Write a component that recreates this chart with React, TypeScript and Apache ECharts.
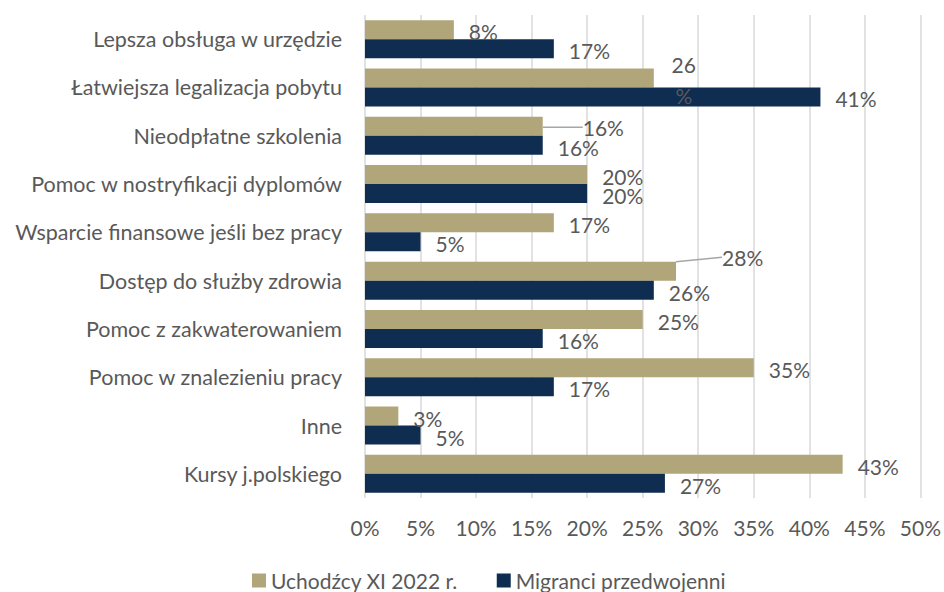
import React, { useEffect, useRef } from "react";
import * as echarts from "echarts";

const categories = [
  "Lepsza obsługa w urzędzie",
  "Łatwiejsza legalizacja pobytu",
  "Nieodpłatne szkolenia",
  "Pomoc w nostryfikacji dyplomów",
  "Wsparcie finansowe jeśli bez pracy",
  "Dostęp do służby zdrowia",
  "Pomoc z zakwaterowaniem",
  "Pomoc w znalezieniu pracy",
  "Inne",
  "Kursy j.polskiego",
];
const uchodzcy = [8, 26, 16, 20, 17, 28, 25, 35, 3, 43];
const migranci = [17, 41, 16, 20, 5, 26, 16, 17, 5, 27];
const seriesNames = ["Uchodźcy XI 2022 r.", "Migranci przedwojenni"];
const xTicks = [0, 5, 10, 15, 20, 25, 30, 35, 40, 45, 50];

const FONT = "Lato";
const TEXT = "#595959";
const TAN = "#b1a57a";
const NAVY = "#0f2d51";

export default function App() {
  const ref = useRef<HTMLDivElement>(null);
  useEffect(() => {
    if (!ref.current) return;
    const chart = echarts.init(ref.current, null, { renderer: "svg" });
    const labelBase = {
      show: true,
      position: "right",
      distance: 15,
      color: TEXT,
      fontFamily: FONT,
      fontSize: 21,
      formatter: (p: any) => p.value + "%",
    };
    const uData = uchodzcy.map((v, i) => {
      const item: any = { value: v };
      if (i === 1) {
        item.label = {
          formatter: "26\n%",
          align: "center",
          lineHeight: 31,
        };
      }
      if (i === 2 || i === 5) {
        item.labelLine = { show: true };
        item.label = { padding: [0, 0, 0, 7] };
      }
      return item;
    });
    chart.setOption({
      animation: false,
      textStyle: { fontFamily: FONT },
      grid: { left: 365, right: 20, top: 15, bottom: 94, containLabel: false },
      legend: {
        top: 565,
        left: 247,
        itemWidth: 14,
        itemHeight: 14,
        itemGap: 39,
        icon: "rect",
        textStyle: { color: TEXT, fontSize: 21, fontFamily: FONT },
        data: seriesNames,
      },
      xAxis: {
        type: "value",
        min: xTicks[0],
        max: xTicks[xTicks.length - 1],
        interval: 5,
        axisLine: { show: false },
        axisTick: { show: false },
        axisLabel: {
          color: TEXT,
          fontSize: 21,
          fontFamily: FONT,
          margin: 19,
          formatter: (v: number) => v + "%",
        },
        splitLine: { show: true, lineStyle: { color: "#d9d9d9", width: 1.5 } },
      },
      yAxis: {
        type: "category",
        data: categories,
        inverse: true,
        axisLine: { show: false },
        axisTick: { show: false },
        axisLabel: { color: TEXT, fontSize: 21.5, fontFamily: FONT, margin: 23 },
      },
      series: [
        {
          name: seriesNames[0],
          type: "bar",
          data: uData,
          barWidth: 19,
          barGap: "0%",
          itemStyle: { color: TAN },
          label: labelBase,
          labelLine: { show: false, lineStyle: { color: "#a6a6a6", width: 1.5 } },
          labelLayout: (p: any) => {
            if (p.dataIndex === 1) return { dx: 15, dy: 2 };
            if (p.dataIndex === 2) return { dx: 18, dy: 1 };
            if (p.dataIndex === 5) return { dx: 24, dy: -14 };
            return { dx: 0, dy: 2 };
          },
        },
        {
          name: seriesNames[1],
          type: "bar",
          data: migranci,
          barWidth: 19,
          barGap: "0%",
          itemStyle: { color: NAVY },
          label: labelBase,
          labelLayout: () => ({ dx: 0, dy: 2 }),
        },
      ],
    });
    return () => chart.dispose();
  }, []);
  return (
    <div
      ref={ref}
      style={{ position: "fixed", left: 0, top: 0, width: 944, height: 592, background: "#fff" }}
    />
  );
}
